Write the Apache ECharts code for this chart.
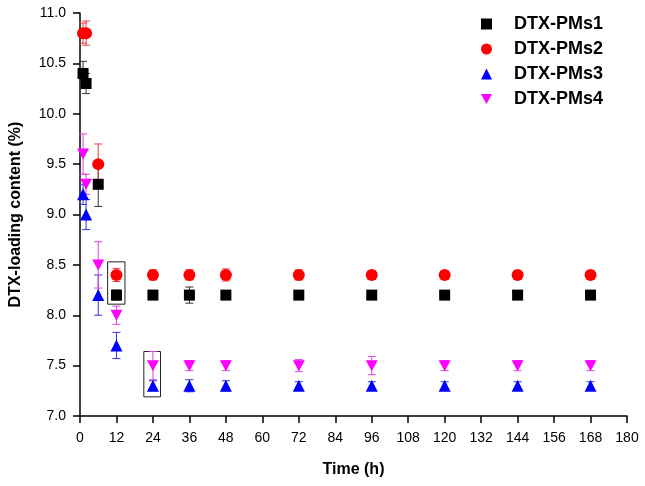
<!DOCTYPE html>
<html>
<head>
    <meta charset="utf-8">
    <title>DTX loading content</title>
    <script src="https://cdn.jsdelivr.net/npm/echarts@6/dist/echarts.min.js"></script>
    <style>
        html, body { margin: 0; padding: 0; background: #fff; }
    </style>
</head>
<body>
<div id="main" style="width: 645px;height:486px;"></div>
<script type="text/javascript">
    // 时间点 (h)
    var times = [1, 2, 6, 12, 24, 36, 48, 72, 96, 120, 144, 168];

    // 各组载药量 (%) 及误差
    var pms1 = [10.4, 10.3, 9.3, 8.2, 8.2, 8.2, 8.2, 8.2, 8.2, 8.2, 8.2, 8.2];
    var pms1Err = [0.12, 0.1, 0.22, 0.05, 0.03, 0.08, 0.03, 0.03, 0.04, 0.03, 0.03, 0.03];
    var pms2 = [10.8, 10.8, 9.5, 8.4, 8.4, 8.4, 8.4, 8.4, 8.4, 8.4, 8.4, 8.4];
    var pms2Err = [0.1, 0.12, 0.2, 0.065, 0.05, 0.05, 0.06, 0.05, 0.04, 0.04, 0.04, 0.04];
    var pms3 = [9.2, 9.0, 8.2, 7.7, 7.3, 7.3, 7.3, 7.3, 7.3, 7.3, 7.3, 7.3];
    var pms3Err = [0.1, 0.15, 0.2, 0.13, 0.05, 0.06, 0.05, 0.04, 0.04, 0.04, 0.04, 0.04];
    var pms4 = [9.6, 9.3, 8.5, 8.0, 7.5, 7.5, 7.5, 7.5, 7.5, 7.5, 7.5, 7.5];
    var pms4Err = [0.2, 0.1, 0.23, 0.09, 0.14, 0.05, 0.05, 0.06, 0.09, 0.05, 0.05, 0.05];

    var names = ['DTX-PMs1', 'DTX-PMs2', 'DTX-PMs3', 'DTX-PMs4'];
    var xTicks = [0, 12, 24, 36, 48, 60, 72, 84, 96, 108, 120, 132, 144, 156, 168, 180];

    // 标注框 [x1, x2, y1, y2]
    var boxes = [[9.1, 14.8, 8.11, 8.53], [21, 26.5, 7.19, 7.64]];

    var colors = ['#000000', '#ff0000', '#0000ff', '#ff00ff'];
    var barColors = ['#333333', '#e84040', '#3333dd', '#e040e8'];
    var symbols = ['rect', 'circle', 'triangle', 'path://M0,0 L10,0 L5,9 Z'];
    var sizes = [11, 12, 12, [12, 11]];
    var values = [pms1, pms2, pms3, pms4];
    var errs = [pms1Err, pms2Err, pms3Err, pms4Err];

    var myChart = echarts.init(document.getElementById('main'));

    var font = '"Liberation Sans", Arial, sans-serif';
    var series = [];

    values.forEach(function (vals, i) {
        var barData = times.map(function (t, j) {
            return [t, vals[j] - errs[i][j], vals[j] + errs[i][j]];
        });
        series.push({
            type: 'custom',
            name: names[i] + '-err',
            z: 1,
            silent: true,
            data: barData,
            renderItem: function (params, api) {
                var x = api.value(0);
                var lo = api.coord([x, api.value(1)]);
                var hi = api.coord([x, api.value(2)]);
                var w = 4;
                var style = { stroke: barColors[i], lineWidth: 1 };
                return {
                    type: 'group',
                    children: [
                        { type: 'line', shape: { x1: lo[0], y1: lo[1], x2: hi[0], y2: hi[1] }, style: style },
                        { type: 'line', shape: { x1: lo[0] - w, y1: lo[1], x2: lo[0] + w, y2: lo[1] }, style: style },
                        { type: 'line', shape: { x1: hi[0] - w, y1: hi[1], x2: hi[0] + w, y2: hi[1] }, style: style }
                    ]
                };
            }
        });
    });

    values.forEach(function (vals, i) {
        var s = {
            type: 'scatter',
            name: names[i],
            z: 3,
            symbol: symbols[i],
            symbolSize: sizes[i],
            itemStyle: { color: colors[i], opacity: 1 },
            data: times.map(function (t, j) { return [t, vals[j]]; })
        };
        if (i === 0) {
            s.markArea = {
                silent: true,
                itemStyle: { color: 'rgba(0,0,0,0)', borderColor: '#222', borderWidth: 1 },
                data: boxes.map(function (b) {
                    return [{ coord: [b[0], b[2]] }, { coord: [b[1], b[3]] }];
                })
            };
        }
        series.push(s);
    });

    var option = {
        animation: false,
        backgroundColor: '#ffffff',
        grid: { left: 80, right: 18, top: 13, bottom: 70 },
        legend: {
            data: names.map(function (n, i) { return { name: n, icon: symbols[i] }; }),
            orient: 'vertical',
            left: 476,
            top: 10,
            itemWidth: 11,
            itemHeight: 11,
            itemGap: 7,
            textStyle: {
                fontFamily: font, fontWeight: 'bold', fontSize: 18, color: '#000',
                padding: [0, 0, 0, 17]
            }
        },
        xAxis: {
            type: 'value',
            min: 0,
            max: 180,
            interval: 12,
            name: 'Time (h)',
            nameLocation: 'middle',
            nameGap: 46,
            nameTextStyle: { fontFamily: font, fontWeight: 'bold', fontSize: 16, color: '#000' },
            axisLine: { onZero: false, lineStyle: { color: '#000', width: 1.5 } },
            axisTick: { inside: false, length: 7, lineStyle: { color: '#000', width: 1.5 } },
            axisLabel: {
                fontFamily: font, fontSize: 14, color: '#000', margin: 15,
                formatter: function (v) { return xTicks.indexOf(v) >= 0 ? String(v) : ''; }
            },
            splitLine: { show: false }
        },
        yAxis: {
            type: 'value',
            min: 7.0,
            max: 11.0,
            interval: 0.5,
            name: 'DTX-loading content (%)',
            nameLocation: 'middle',
            nameGap: 56,
            nameTextStyle: { fontFamily: font, fontWeight: 'bold', fontSize: 16, color: '#000' },
            axisLine: { show: true, lineStyle: { color: '#000', width: 1.5 } },
            axisTick: { show: true, inside: false, length: 7, lineStyle: { color: '#000', width: 1.5 } },
            axisLabel: {
                fontFamily: font, fontSize: 14, color: '#000', margin: 14,
                formatter: function (v) { return v.toFixed(1); }
            },
            splitLine: { show: false }
        },
        series: series
    };

    myChart.setOption(option, true);
</script>
</body>
</html>
